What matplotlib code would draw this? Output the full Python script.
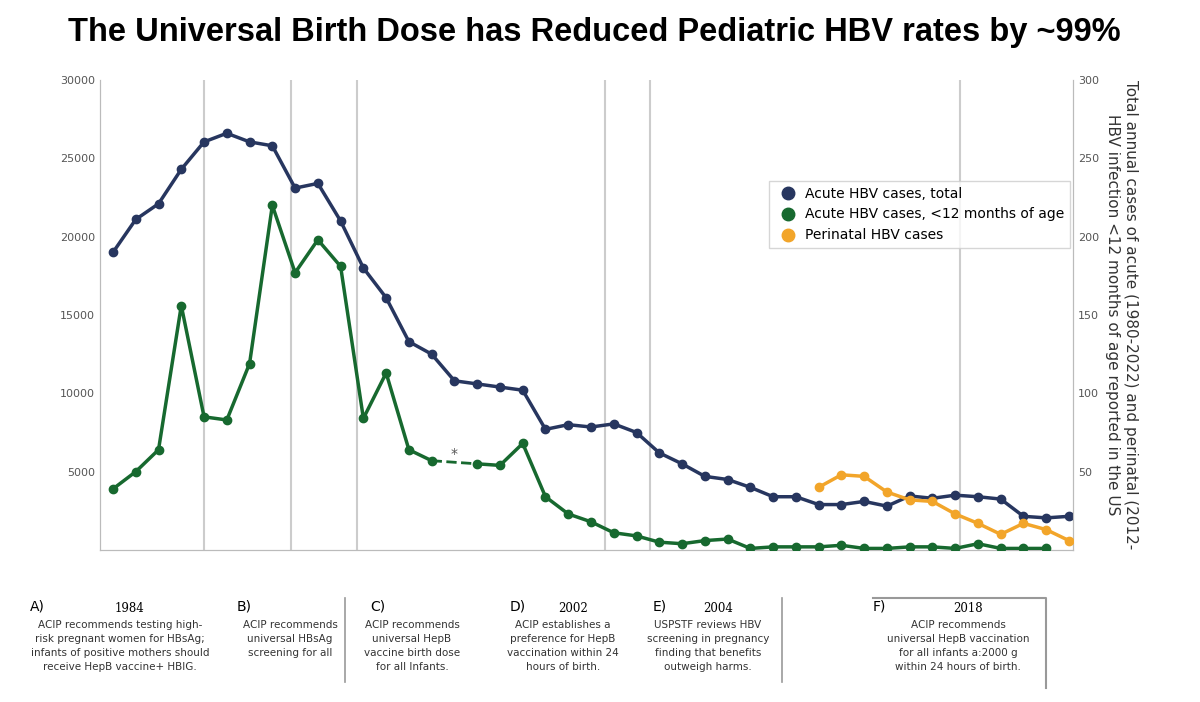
import matplotlib.pyplot as plt
import numpy as np
from matplotlib.lines import Line2D

years = np.arange(1980, 2023)
acute_total = [19000, 21100, 22100, 24300, 26050, 26600, 26050, 25800, 23100, 23400,
               21000, 18000, 16100, 13300, 12500, 10800, 10600, 10400, 10200, 7700,
               8000, 7850, 8050, 7500, 6200, 5500, 4700, 4500, 4000, 3400,
               3400, 2900, 2900, 3100, 2800, 3450, 3300, 3500, 3400, 3250,
               2150, 2050, 2150]
acute_infant = [39, 50, 64, 156, 85, 83, 119, 220, 177, 198,
                181, 84, 113, 64, 57, np.nan, 55, 54, 68, 34,
                23, 18, 11, 9, 5, 4, 6, 7, 1, 2,
                2, 2, 3, 1, 1, 2, 2, 1, 4, 1,
                1, 1, np.nan]
peri_years = np.arange(2011, 2023)
perinatal = [40, 48, 47, 37, 32, 31, 23, 17, 10, 17, 13, 6]

event_lines = [1984, 1987.8, 1990.7, 2001.6, 2003.6, 2017.2]
notes = [
    (30, "A)", "1984", "ACIP recommends testing high-\nrisk pregnant women for HBsAg;\ninfants of positive mothers should\nreceive HepB vaccine+ HBIG.", 120),
    (237, "B)", "", "ACIP recommends\nuniversal HBsAg\nscreening for all", 290),
    (370, "C)", "", "ACIP recommends\nuniversal HepB\nvaccine birth dose\nfor all Infants.", 412),
    (510, "D)", "2002", "ACIP establishes a\npreference for HepB\nvaccination within 24\nhours of birth.", 563),
    (653, "E)", "2004", "USPSTF reviews HBV\nscreening in pregnancy\nfinding that benefits\noutweigh harms.", 708),
    (873, "F)", "2018", "ACIP recommends\nuniversal HepB vaccination\nfor all infants a:2000 g\nwithin 24 hours of birth.", 958),
]

NAVY = "#27365f"
GREEN = "#17692f"
ORANGE = "#f2a52a"
GRAY = "#555555"

W, H = 1200, 702
fig = plt.figure(figsize=(12, 7.02), dpi=100)
ax = fig.add_axes([100 / W, 1 - 550 / H, 973 / W, 470 / H])
ax2 = ax.twinx()

x0 = 1980 - 13 / 22.76
x1 = 2022 + 4 / 22.76
for a in (ax, ax2):
    a.set_xlim(x0, x1)
ax.set_ylim(0, 30000)
ax2.set_ylim(0, 300)

for yr in event_lines:
    ax.axvline(yr, color="#cccccc", lw=1.5, zorder=0)

ax.plot(years, acute_total, "-o", color=NAVY, lw=2.5, ms=6, zorder=3)
inf = np.array(acute_infant, dtype=float)
ax2.plot(years, inf, "-o", color=GREEN, lw=2.5, ms=6, zorder=3)
ax2.plot([1994, 1996], [inf[14], inf[16]], "--", color=GREEN, lw=2, zorder=2)
ax2.text(1995, 59, "*", ha="center", fontsize=10, color=GRAY)
ax2.plot(peri_years, perinatal, "-o", color=ORANGE, lw=2.5, ms=6, zorder=4)

ax.set_xticks([])
ax.set_yticks([5000, 10000, 15000, 20000, 25000, 30000])
ax2.set_yticks([50, 100, 150, 200, 250, 300])
for a in (ax, ax2):
    a.tick_params(labelsize=8, colors=GRAY, length=0)
    a.spines["top"].set_visible(False)
    for s in ("left", "right", "bottom"):
        a.spines[s].set_color("#bbbbbb")
ax2.set_ylabel("Total annual cases of acute (1980-2022) and perinatal (2012-\nHBV infection <12 months of age reported in the US",
               rotation=-90, labelpad=28, fontsize=11, color="#333333")

handles = [Line2D([], [], marker="o", ls="", color=c, ms=9) for c in (NAVY, GREEN, ORANGE)]
ax.legend(handles, ["Acute HBV cases, total", "Acute HBV cases, <12 months of age", "Perinatal HBV cases"],
          loc="upper left", bbox_to_anchor=(0.68, 0.8), fontsize=10, frameon=True,
          edgecolor="#cccccc", fancybox=False, handletextpad=0.2, borderpad=0.4)

fig.text(0.495, 1 - 32 / H, "The Universal Birth Dose has Reduced Pediatric HBV rates by ~99%",
         ha="center", va="center", fontsize=23.5, fontweight="bold", family="Liberation Sans")

for xl, lab, yr, body, xc in notes:
    fig.text(xl / W, 1 - 607 / H, lab, fontsize=10, va="center")
    if yr:
        fig.text((xc + 10) / W, 1 - 608 / H, yr, fontsize=8.5, va="center", ha="center", family="DejaVu Serif")
    fig.text(xc / W, 1 - 620 / H, body, fontsize=7.5, va="top", ha="center", color="#333333",
             linespacing=1.5)
for xs in (345, 782):
    fig.add_artist(Line2D([xs / W, xs / W], [1 - 598 / H, 1 - 682 / H], color="#999999", lw=1.2))
fig.add_artist(Line2D([873 / W, 1046 / W, 1046 / W], [1 - 598 / H, 1 - 598 / H, 1 - 688 / H],
                      color="#999999", lw=1.5))

fig.savefig("out.png", dpi=100)
